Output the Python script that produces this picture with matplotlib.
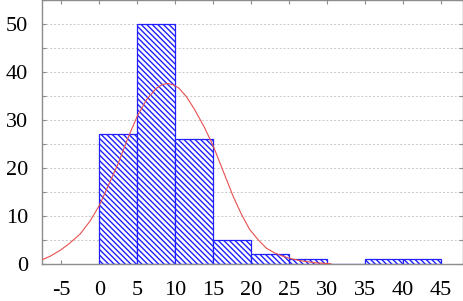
import numpy as np
import matplotlib
matplotlib.use('Agg')
import matplotlib.pyplot as plt
from matplotlib.ticker import MultipleLocator

plt.rcParams['font.family'] = ['Liberation Serif', 'DejaVu Serif']
plt.rcParams['axes.unicode_minus'] = False
plt.rcParams['hatch.linewidth'] = 1.0

# histogram bins (left edges) and counts
bin_left = [0, 5, 10, 15, 20, 25, 30, 35, 40]
counts = [27, 50, 26, 5, 2, 1, 0, 1, 1]
bin_width = 5

# fitted curve
curve_x = [-7.6, -6.5, -5.2, -4, -2.5, -1.2, 0, 1.2, 2.5, 3.7, 5, 6.2, 7.5, 8.3,
           9, 9.8, 10.5, 11.5, 12.5, 13.8, 15, 16.3, 17.6, 18.7, 19.8, 21,
           22.0, 23.1, 24.2, 25.3, 26.4, 28.5, 30.5]
curve_y = [0.85, 1.6, 2.8, 4.2, 6.3, 9.0, 12.2, 16.4, 21.0, 26.0, 30.8, 34.2, 36.6, 37.4,
           37.6, 37.3, 36.6, 34.8, 32.3, 28.6, 24.6, 19.4, 14.2, 10.4, 7.2, 4.9,
           3.3, 2.3, 1.6, 1.1, 0.7, 0.25, 0.05]

fig = plt.figure(figsize=(4.64, 3.01), dpi=100)
ax = fig.add_axes([42 / 464, 37 / 301, 421 / 464, 264 / 301])

ax.bar(bin_left, counts, width=bin_width, align='edge', facecolor='white',
       edgecolor='#2020ff', linewidth=0.9, hatch='\\' * 6, zorder=2)
ax.plot(curve_x, curve_y, color='#e85050', linewidth=0.8, zorder=3)

ax.set_xlim(-7.55, 47.9)
ax.set_ylim(0, 55)
ax.xaxis.set_major_locator(MultipleLocator(5))
ax.yaxis.set_major_locator(MultipleLocator(10))
ax.yaxis.set_minor_locator(MultipleLocator(5))

ax.grid(True, axis='y', which='both', color='#c8c8c8', linestyle=(0, (2, 2)),
        linewidth=0.7, zorder=0)
ax.set_axisbelow(True)

for s in ax.spines.values():
    s.set_color('#8c8c8c')
    s.set_linewidth(1.0)

ax.tick_params(axis='both', which='both', direction='in', length=3, width=0.8,
               color='#8c8c8c', top=True, right=True, labelsize=16)
ax.tick_params(axis='x', pad=12)
ax.tick_params(axis='y', pad=10)

fig.savefig('out.png', dpi=100)
